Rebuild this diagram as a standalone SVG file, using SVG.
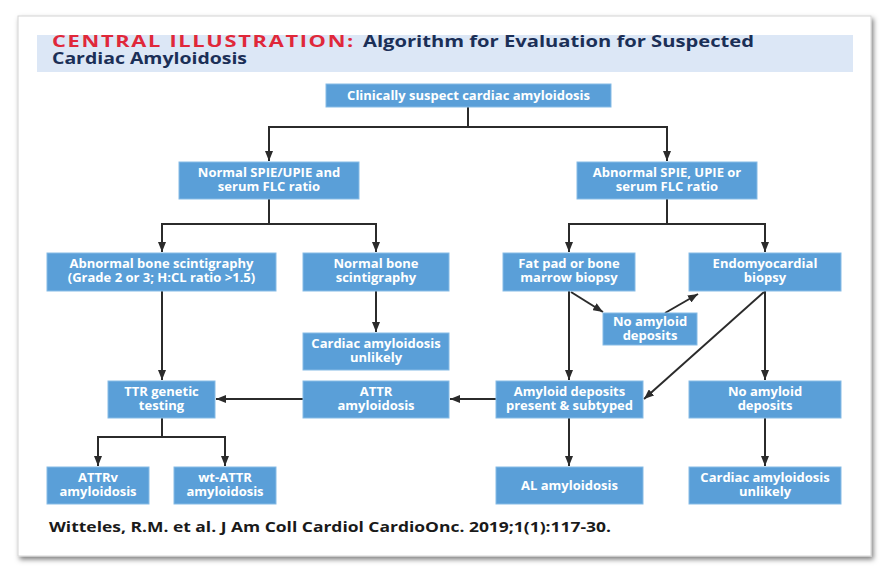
<svg xmlns="http://www.w3.org/2000/svg" width="894" height="584" viewBox="0 0 894 584">
<defs>
<filter id="shadow" x="-5%" y="-5%" width="110%" height="112%">
<feDropShadow dx="2" dy="3" stdDeviation="2.5" flood-color="#000" flood-opacity="0.5"/>
</filter>
<marker id="arr" markerUnits="userSpaceOnUse" markerWidth="10" markerHeight="8" refX="10" refY="4" orient="auto">
<path d="M0,0 L10,4 L0,8 z" fill="#2b2b2b"/>
</marker>
<style>
.box{fill:#5a9fd8;stroke:#86bbe6;stroke-width:1}
.lbl{font-family:"Open Sans","Noto Sans","Liberation Sans",sans-serif;font-size:13px;font-weight:700;fill:#ffffff;text-anchor:middle}
.con path{fill:none;stroke:#2b2b2b;stroke-width:2}
.arr{marker-end:url(#arr)}
.ttl{font-family:"Open Sans","Noto Sans","Liberation Sans",sans-serif;font-size:15.5px;font-weight:700}
</style>
</defs>
<rect width="894" height="584" fill="#ffffff"/>
<rect x="18" y="16" width="853" height="540" fill="#ffffff" stroke="#d4d4d4" stroke-width="1" filter="url(#shadow)"/>
<g id="title">
<rect x="37" y="35" width="816" height="37" fill="#dce7f6"/>
<text class="ttl" x="52" y="47" fill="#e0283a" font-size="16" letter-spacing="1.2" textLength="303" lengthAdjust="spacingAndGlyphs">CENTRAL ILLUSTRATION:</text>
<text class="ttl" x="363" y="47" fill="#1b2f57" textLength="391" lengthAdjust="spacingAndGlyphs">Algorithm for Evaluation for Suspected</text>
<text class="ttl" x="52" y="64" fill="#1b2f57" textLength="195" lengthAdjust="spacingAndGlyphs">Cardiac Amyloidosis</text>
</g>
<g class="con" id="connectors">
<path class="arr" d="M468,107 V127 H269 V161"/>
<path class="arr" d="M468,127 H667 V161"/>
<path class="arr" d="M269,199 V224 H162 V252"/>
<path class="arr" d="M269,224 H376 V252"/>
<path class="arr" d="M667,199 V224 H569 V252"/>
<path class="arr" d="M667,224 H765 V252"/>
<path class="arr" d="M162,291 V380"/>
<path class="arr" d="M376,291 V332"/>
<path class="arr" d="M569,291 V380"/>
<path class="arr" d="M571,292 L603,312"/>
<path class="arr" d="M665,313 L698,294"/>
<path class="arr" d="M764,292 L644,399"/>
<path class="arr" d="M765,291 V380"/>
<path class="arr" d="M303,399 H216"/>
<path class="arr" d="M496,399 H450"/>
<path class="arr" d="M162,418 V437 H98 V466"/>
<path class="arr" d="M162,437 H225 V466"/>
<path class="arr" d="M569,418 V466"/>
<path class="arr" d="M765,418 V466"/>
</g>
<g id="n1"><rect class="box" x="326" y="84" width="285" height="23"/><text class="lbl" x="468.5" y="100">Clinically suspect cardiac amyloidosis</text></g>
<g id="n2"><rect class="box" x="179" y="162" width="180" height="37"/><text class="lbl" x="269" y="177">Normal SPIE/UPIE and</text><text class="lbl" x="269" y="191">serum FLC ratio</text></g>
<g id="n3"><rect class="box" x="577" y="162" width="180" height="37"/><text class="lbl" x="667" y="177">Abnormal SPIE, UPIE or</text><text class="lbl" x="667" y="191">serum FLC ratio</text></g>
<g id="n4"><rect class="box" x="47" y="253" width="229" height="38"/><text class="lbl" x="161.5" y="268">Abnormal bone scintigraphy</text><text class="lbl" x="161.5" y="282">(Grade 2 or 3; H:CL ratio &gt;1.5)</text></g>
<g id="n5"><rect class="box" x="303" y="253" width="146" height="38"/><text class="lbl" x="376" y="268">Normal bone</text><text class="lbl" x="376" y="282">scintigraphy</text></g>
<g id="n6"><rect class="box" x="503" y="253" width="132" height="38"/><text class="lbl" x="569" y="268">Fat pad or bone</text><text class="lbl" x="569" y="282">marrow biopsy</text></g>
<g id="n7"><rect class="box" x="689" y="253" width="152" height="38"/><text class="lbl" x="765" y="268">Endomyocardial</text><text class="lbl" x="765" y="282">biopsy</text></g>
<g id="n8"><rect class="box" x="603" y="313" width="94" height="32"/><text class="lbl" x="650" y="326">No amyloid</text><text class="lbl" x="650" y="340">deposits</text></g>
<g id="n9"><rect class="box" x="303" y="333" width="146" height="37"/><text class="lbl" x="376" y="348">Cardiac amyloidosis</text><text class="lbl" x="376" y="362">unlikely</text></g>
<g id="n10"><rect class="box" x="108" y="381" width="107" height="37"/><text class="lbl" x="161.5" y="396">TTR genetic</text><text class="lbl" x="161.5" y="410">testing</text></g>
<g id="n11"><rect class="box" x="303" y="381" width="146" height="37"/><text class="lbl" x="376" y="396">ATTR</text><text class="lbl" x="376" y="410">amyloidosis</text></g>
<g id="n12"><rect class="box" x="496" y="381" width="147" height="37"/><text class="lbl" x="569.5" y="396">Amyloid deposits</text><text class="lbl" x="569.5" y="410">present &amp; subtyped</text></g>
<g id="n13"><rect class="box" x="689" y="381" width="152" height="37"/><text class="lbl" x="765" y="396">No amyloid</text><text class="lbl" x="765" y="410">deposits</text></g>
<g id="n14"><rect class="box" x="47" y="467" width="102" height="37"/><text class="lbl" x="98" y="482">ATTRv</text><text class="lbl" x="98" y="496">amyloidosis</text></g>
<g id="n15"><rect class="box" x="174" y="467" width="102" height="37"/><text class="lbl" x="225" y="482">wt-ATTR</text><text class="lbl" x="225" y="496">amyloidosis</text></g>
<g id="n16"><rect class="box" x="496" y="467" width="147" height="37"/><text class="lbl" x="569.5" y="490">AL amyloidosis</text></g>
<g id="n17"><rect class="box" x="689" y="467" width="152" height="37"/><text class="lbl" x="765" y="482">Cardiac amyloidosis</text><text class="lbl" x="765" y="496">unlikely</text></g>
<g id="citation"><text x="49" y="532" font-family="'Open Sans','Noto Sans','Liberation Sans',sans-serif" font-size="14" font-weight="700" fill="#1a1a1a" textLength="562" lengthAdjust="spacingAndGlyphs">Witteles, R.M. et al. J Am Coll Cardiol CardioOnc. 2019;1(1):117-30.</text></g>
</svg>
